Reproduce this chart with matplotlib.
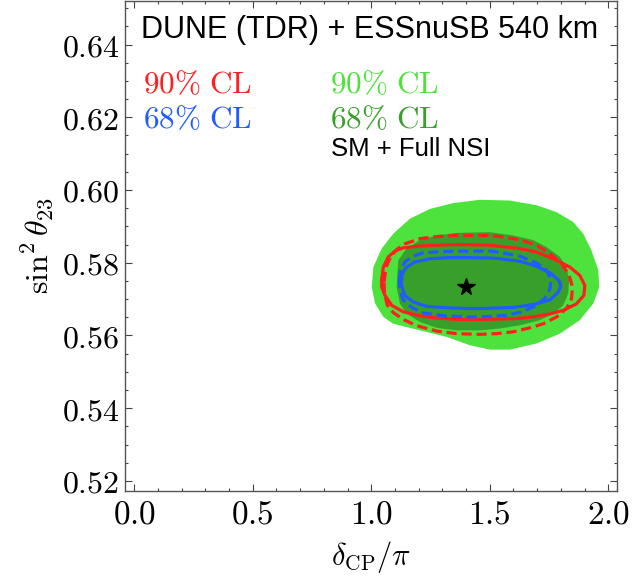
import matplotlib
matplotlib.use("Agg")
import matplotlib.pyplot as plt
from matplotlib.ticker import MultipleLocator, FuncFormatter

plt.rcParams['mathtext.fontset'] = 'cm'

# ---------------- data (delta_CP/pi, sin^2 theta_23) ----------------
green90_x = [1.458, 1.346, 1.248, 1.163, 1.093, 1.044, 1.009, 1.002, 1.016, 1.051, 1.093,
             1.205, 1.318, 1.416, 1.501, 1.585, 1.698, 1.796, 1.880, 1.937, 1.962, 1.958,
             1.929, 1.894, 1.852, 1.782, 1.698, 1.585]
green90_y = [0.5973, 0.5964, 0.5948, 0.5921, 0.5880, 0.5839, 0.5788, 0.5733, 0.5688, 0.5651, 0.5632,
             0.5614, 0.5596, 0.5573, 0.5561, 0.5561, 0.5578, 0.5605, 0.5642, 0.5688, 0.5733, 0.5779,
             0.5834, 0.5880, 0.5912, 0.5939, 0.5958, 0.5971]

green68_x = [1.110, 1.114, 1.149, 1.205, 1.276, 1.360, 1.501, 1.599, 1.684, 1.740, 1.796, 1.824,
             1.835, 1.831, 1.810, 1.768, 1.712, 1.627, 1.543, 1.459, 1.360, 1.276, 1.205, 1.149,
             1.121, 1.107]
green68_y = [0.5770, 0.5807, 0.5839, 0.5862, 0.5875, 0.5882, 0.5884, 0.5875, 0.5862, 0.5843, 0.5816, 0.5788,
             0.5752, 0.5715, 0.5683, 0.5660, 0.5642, 0.5628, 0.5619, 0.5614, 0.5614, 0.5621, 0.5637, 0.5660,
             0.5687, 0.5733]

red_solid_x = [1.044, 1.051, 1.072, 1.100, 1.135, 1.205, 1.276, 1.360, 1.501, 1.543, 1.627, 1.698,
               1.768, 1.838, 1.880, 1.901, 1.897, 1.866, 1.810, 1.740, 1.669, 1.599, 1.459, 1.360,
               1.276, 1.205, 1.135, 1.086, 1.058, 1.044]
red_solid_y = [0.5752, 0.5788, 0.5816, 0.5832, 0.5841, 0.5846, 0.5848, 0.5850, 0.5848, 0.5845, 0.5839, 0.5829,
               0.5811, 0.5788, 0.5765, 0.5738, 0.5710, 0.5687, 0.5669, 0.5657, 0.5650, 0.5646, 0.5644, 0.5644,
               0.5648, 0.5654, 0.5665, 0.5683, 0.5710, 0.5733]

red_dash_x = [1.054, 1.062, 1.082, 1.107, 1.142, 1.205, 1.276, 1.360, 1.501, 1.543, 1.627, 1.698,
              1.754, 1.803, 1.835, 1.849, 1.845, 1.824, 1.782, 1.726, 1.669, 1.599, 1.529, 1.459,
              1.360, 1.276, 1.191, 1.135, 1.093, 1.068, 1.056]
red_dash_y = [0.5747, 0.5788, 0.5816, 0.5836, 0.5852, 0.5866, 0.5872, 0.5875, 0.5875, 0.5872, 0.5863, 0.5848,
              0.5825, 0.5797, 0.5765, 0.5733, 0.5701, 0.5674, 0.5651, 0.5632, 0.5621, 0.5610, 0.5605, 0.5603,
              0.5605, 0.5612, 0.5627, 0.5644, 0.5663, 0.5683, 0.5715]

blue_solid_x = [1.125, 1.131, 1.149, 1.184, 1.248, 1.332, 1.416, 1.501, 1.543, 1.627, 1.698, 1.754,
                1.789, 1.800, 1.789, 1.754, 1.684, 1.599, 1.459, 1.416, 1.318, 1.234, 1.177, 1.142]
blue_solid_y = [0.5742, 0.5770, 0.5788, 0.5802, 0.5811, 0.5814, 0.5814, 0.5813, 0.5811, 0.5804, 0.5790, 0.5772,
                0.5753, 0.5738, 0.5719, 0.5698, 0.5685, 0.5677, 0.5674, 0.5674, 0.5676, 0.5680, 0.5692, 0.5710]

blue_dash_x = [1.118, 1.124, 1.142, 1.177, 1.219, 1.304, 1.416, 1.501, 1.543, 1.627, 1.698, 1.740,
               1.758, 1.754, 1.733, 1.698, 1.641, 1.571, 1.459, 1.416, 1.304, 1.219, 1.170, 1.135, 1.121]
blue_dash_y = [0.5752, 0.5779, 0.5802, 0.5818, 0.5827, 0.5831, 0.5832, 0.5832, 0.5828, 0.5818, 0.5799, 0.5779,
               0.5753, 0.5728, 0.5703, 0.5683, 0.5666, 0.5655, 0.5651, 0.5651, 0.5654, 0.5662, 0.5677, 0.5697, 0.5724]

best_fit = (1.40, 0.5732)

x_ticks = [0.0, 0.5, 1.0, 1.5, 2.0]
y_ticks = [0.52, 0.54, 0.56, 0.58, 0.60, 0.62, 0.64]

# ---------------- colours ----------------
c_red = '#ff1f1f'
c_blue = '#1f5bff'
c_lgreen = '#4ee23c'
c_dgreen = '#38a02a'

fig = plt.figure(figsize=(6.32, 5.81), dpi=100)
ax = fig.add_axes([0.1978, 0.1554, 0.7789, 0.8437])

def closed(xs, ys):
    return list(xs) + [xs[0]], list(ys) + [ys[0]]

ax.fill(green90_x, green90_y, color=c_lgreen, lw=0, zorder=1)
ax.fill(green68_x, green68_y, color=c_dgreen, lw=0, zorder=2)

lw = 2.3
xs, ys = closed(red_dash_x, red_dash_y)
ax.plot(xs, ys, color=c_red, lw=lw, dashes=(3.2, 1.5), zorder=3)
xs, ys = closed(red_solid_x, red_solid_y)
ax.plot(xs, ys, color=c_red, lw=lw, zorder=4)
xs, ys = closed(blue_dash_x, blue_dash_y)
ax.plot(xs, ys, color=c_blue, lw=lw, dashes=(3.2, 1.5), zorder=5)
xs, ys = closed(blue_solid_x, blue_solid_y)
ax.plot(xs, ys, color=c_blue, lw=lw, zorder=6)
ax.plot([best_fit[0]], [best_fit[1]], marker='*', color='black', ms=13, ls='none', zorder=7)

ax.set_xlim(-0.039, 2.038)
ax.set_ylim(0.5173, 0.6521)
ax.xaxis.set_major_locator(MultipleLocator(0.5))
ax.xaxis.set_minor_locator(MultipleLocator(0.1))
ax.yaxis.set_major_locator(MultipleLocator(0.02))
ax.yaxis.set_minor_locator(MultipleLocator(0.005))
ax.set_xticks(x_ticks)
ax.set_yticks(y_ticks)
ax.xaxis.set_major_formatter(FuncFormatter(lambda v, p: r'$%.1f$' % v))
ax.yaxis.set_major_formatter(FuncFormatter(lambda v, p: r'$%.2f$' % v))
ax.tick_params(which='both', direction='in', top=True, right=True, color='#444444', width=0.8)
ax.tick_params(which='major', length=5, pad=4)
ax.tick_params(axis='y', which='major', labelsize=23)
ax.tick_params(axis='x', which='major', labelsize=24, pad=5)
ax.tick_params(which='minor', length=2.5)
for s in ax.spines.values():
    s.set_color('#555555')
    s.set_linewidth(1.0)

ax.set_xlabel(r'$\delta_{\rm CP}/\pi$', fontsize=22, labelpad=6)
ax.set_ylabel(r'$\sin^2\theta_{23}$', fontsize=23, labelpad=4)

ax.text(0.0325, 0.9235, 'DUNE (TDR) + ESSnuSB 540 km', transform=ax.transAxes,
        fontsize=22, family='Liberation Sans', va='baseline', ha='left')
ax.text(0.0357, 0.812, r'$90\%\ \mathrm{CL}$', transform=ax.transAxes, color=c_red,
        fontsize=22.5, va='baseline', ha='left')
ax.text(0.0357, 0.740, r'$68\%\ \mathrm{CL}$', transform=ax.transAxes, color=c_blue,
        fontsize=22.5, va='baseline', ha='left')
ax.text(0.4164, 0.812, r'$90\%\ \mathrm{CL}$', transform=ax.transAxes, color=c_lgreen,
        fontsize=22.5, va='baseline', ha='left')
ax.text(0.4164, 0.740, r'$68\%\ \mathrm{CL}$', transform=ax.transAxes, color=c_dgreen,
        fontsize=22.5, va='baseline', ha='left')
ax.text(0.418, 0.6828, 'SM + Full NSI', transform=ax.transAxes,
        fontsize=18.5, family='Liberation Sans', va='baseline', ha='left')

fig.savefig('out.png', dpi=100)
